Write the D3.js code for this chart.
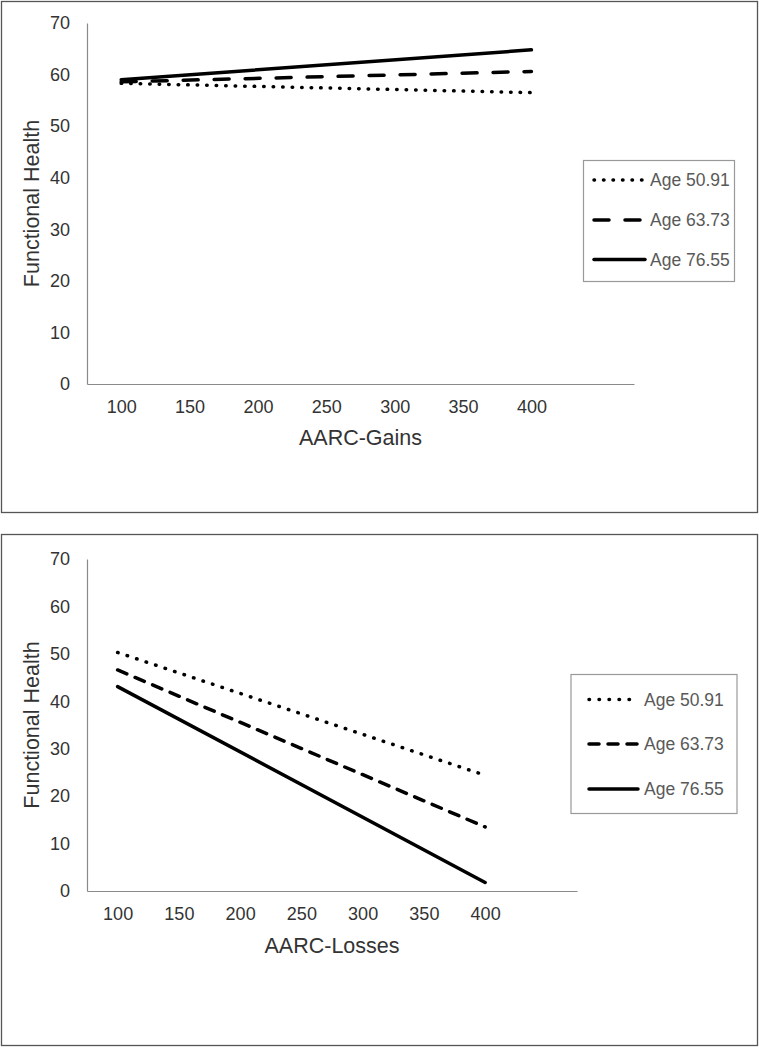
<!DOCTYPE html>
<html>
<head>
<meta charset="utf-8">
<script src="https://cdn.jsdelivr.net/npm/d3@7"></script>
<style>
  html, body { margin: 0; padding: 0; background: #fff; }
  svg { display: block; font-family: "Liberation Sans", Arial, sans-serif; }
</style>
</head>
<body>
<svg id="chart" width="759" height="1048"></svg>
<script>
// ---- data ----
const xTicks = [100, 150, 200, 250, 300, 350, 400];
const yTicks = [0, 10, 20, 30, 40, 50, 60, 70];
const xEnds = [100, 400];
const seriesNames = ["Age 50.91", "Age 63.73", "Age 76.55"];
// Panel 1: AARC-Gains
const gainsAge5091 = [58.3, 56.5];
const gainsAge6373 = [58.6, 60.6];
const gainsAge7655 = [59.0, 64.8];
// Panel 2: AARC-Losses
const lossesAge5091 = [50.3, 24.4];
const lossesAge6373 = [46.6, 13.5];
const lossesAge7655 = [43.1, 1.8];
const xTitles = ["AARC-Gains", "AARC-Losses"];
const yTitle = "Functional Health";

// ---- layout ----
const panels = [
  {
    box: [1.5, 1.5, 756, 511],
    x0: 87, x1: 634, yTop: 23, yBot: 384,
    xTitle: xTitles[0], xTitleY: 445, yTitleX: 39,
    series: [gainsAge5091, gainsAge6373, gainsAge7655],
    dashes: ["0.5,9", "15,16", null],
    legend: { x: 583.5, y: 160.5, w: 151, h: 121, itemY: [180, 220, 259.5], symX0: 594, symX1: 645, textX: 650 }
  },
  {
    box: [1.5, 534.5, 756, 511],
    x0: 87, x1: 577, yTop: 559, yBot: 891,
    xTitle: xTitles[1], xTitleY: 953, yTitleX: 39,
    series: [lossesAge5091, lossesAge6373, lossesAge7655],
    dashes: ["0.5,9.5", "10,9", null],
    legend: { x: 571, y: 674.5, w: 166, h: 139, itemY: [699.5, 744, 789], symX0: 589, symX1: 638, textX: 644 }
  }
];

const svg = d3.select("#chart");

panels.forEach(p => {
  const g = svg.append("g");
  g.append("rect")
    .attr("x", p.box[0]).attr("y", p.box[1])
    .attr("width", p.box[2]).attr("height", p.box[3])
    .attr("fill", "#fff").attr("stroke", "#555").attr("stroke-width", 1.3);

  const x = d3.scaleLinear().domain([75, 475]).range([p.x0, p.x1]);
  const y = d3.scaleLinear().domain([0, 70]).range([p.yBot, p.yTop]);

  // y axis
  const yAxis = d3.axisLeft(y).tickValues(yTicks).tickSize(0).tickPadding(17).tickFormat(d3.format("d"));
  const ya = g.append("g").attr("transform", `translate(${p.x0},0)`).call(yAxis);
  ya.select(".domain").attr("stroke", "#8a8a8a").attr("stroke-width", 1.2);
  ya.selectAll("text").attr("font-size", 18).attr("fill", "#333")
    .attr("font-family", "Liberation Sans, Arial, sans-serif");

  // x axis
  const xAxis = d3.axisBottom(x).tickValues(xTicks).tickSize(0).tickPadding(16).tickFormat(d3.format("d"));
  const xa = g.append("g").attr("transform", `translate(0,${p.yBot})`).call(xAxis);
  xa.select(".domain").attr("stroke", "#8a8a8a").attr("stroke-width", 1.2);
  xa.selectAll("text").attr("font-size", 18).attr("fill", "#333")
    .attr("font-family", "Liberation Sans, Arial, sans-serif");

  // titles
  g.append("text")
    .attr("x", (p.x0 + p.x1) / 2).attr("y", p.xTitleY)
    .attr("text-anchor", "middle").attr("font-size", 21.5).attr("fill", "#333")
    .text(p.xTitle);
  g.append("text")
    .attr("transform", `translate(${p.yTitleX},${(p.yTop + p.yBot) / 2}) rotate(-90)`)
    .attr("text-anchor", "middle").attr("font-size", 21.5).attr("fill", "#333")
    .text(yTitle);

  // lines
  const line = d3.line().x(d => x(d[0])).y(d => y(d[1]));
  p.series.forEach((vals, i) => {
    const pts = xEnds.map((xv, j) => [xv, vals[j]]);
    g.append("path")
      .attr("d", line(pts))
      .attr("fill", "none")
      .attr("stroke", "#000")
      .attr("stroke-width", 3.5)
      .attr("stroke-linecap", "round")
      .attr("stroke-dasharray", p.dashes[i]);
  });

  // legend
  const L = p.legend;
  g.append("rect").attr("x", L.x).attr("y", L.y).attr("width", L.w).attr("height", L.h)
    .attr("fill", "#fff").attr("stroke", "#999").attr("stroke-width", 1.2);
  seriesNames.forEach((name, i) => {
    g.append("line")
      .attr("x1", L.symX0).attr("x2", L.symX1)
      .attr("y1", L.itemY[i]).attr("y2", L.itemY[i])
      .attr("stroke", "#000").attr("stroke-width", 3.5)
      .attr("stroke-linecap", "round")
      .attr("stroke-dasharray", p.dashes[i]);
    g.append("text")
      .attr("x", L.textX).attr("y", L.itemY[i])
      .attr("dy", "0.36em")
      .attr("font-size", 17.5).attr("fill", "#595959")
      .text(name);
  });
});
</script>
</body>
</html>
